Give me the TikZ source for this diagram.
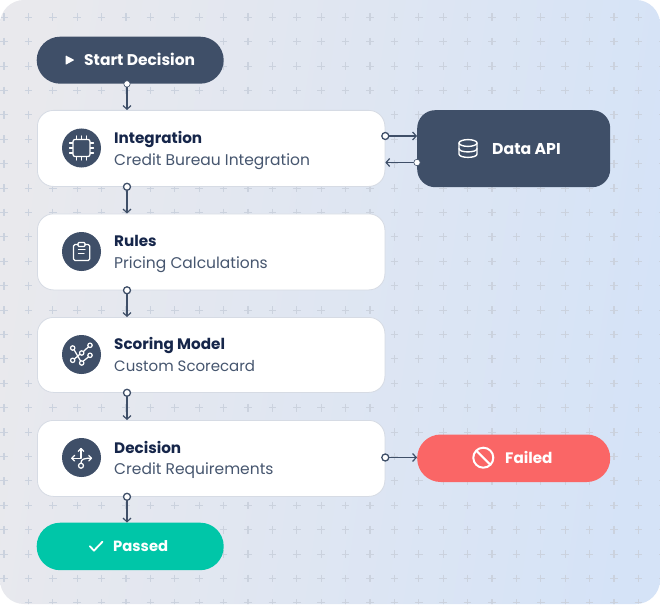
\documentclass[tikz,border=0pt]{standalone}
\usepackage{fontspec}
\setmainfont{Poppins}
\usetikzlibrary{arrows.meta}
\definecolor{slate}{HTML}{3F4F68}
\definecolor{titlec}{HTML}{16264A}
\definecolor{subc}{HTML}{46566F}
\definecolor{edge}{HTML}{D6DBE4}
\definecolor{plusc}{HTML}{CBD2DE}
\definecolor{bgl}{HTML}{E9E9ED}
\definecolor{bgr}{HTML}{D5E3F7}
\definecolor{okc}{HTML}{00C6A8}
\definecolor{badc}{HTML}{FA6666}
\tikzset{
  x=1pt,y=-1pt,
  card/.style={draw=edge,line width=0.8pt,fill=white,rounded corners=16pt,minimum width=347.5pt,minimum height=76pt,inner sep=0pt,anchor=north west},
  pill/.style={rounded corners=23.5pt,minimum width=187pt,minimum height=47pt,inner sep=0pt,anchor=north west},
  badge/.style={circle,fill=slate,minimum size=39pt,inner sep=0pt},
  ttl/.style={anchor=base west,inner sep=0pt,text=titlec,font=\fontsize{15.2}{16}\selectfont\bfseries},
  sub/.style={anchor=base west,inner sep=0pt,text=subc,font=\fontsize{#1}{16}\selectfont},
  sub/.default=15.5,
  lbl/.style={anchor=base west,inner sep=0pt,text=white,font=\fontsize{#1}{16}\selectfont\bfseries},
  link/.style={draw=slate,line width=1.4pt,-{Straight Barb[length=3.6pt,width=8pt,line width=1.2pt]}},
  porto/.style={circle,draw=slate,fill=white,line width=1.3pt,minimum size=7pt,inner sep=0pt},
  portw/.style={circle,draw=slate,fill=white,line width=0.6pt,minimum size=6.4pt,inner sep=0pt},
  ico/.style={draw=white,line width=1.25pt,line cap=round,line join=round},
}
\begin{document}
\begin{tikzpicture}
\useasboundingbox (0,0) rectangle (660,604);
\fill[white] (0,0) rectangle (660,604);
\shade[rounded corners=24pt,left color=bgl,right color=bgr,shading angle=82] (0,0) rectangle (660,604);
% plus grid
\begin{scope}
\clip[rounded corners=24pt] (0,0) rectangle (660,604);
\foreach \i in {0,...,27}{\foreach \j in {0,...,24}{
  \pgfmathsetmacro{\px}{4+24.4*\i}\pgfmathsetmacro{\py}{17.3+24.4*\j}
  \draw[plusc,line width=1.1pt] (\px-3.8,\py) -- (\px+3.8,\py) (\px,\py-3.8) -- (\px,\py+3.8);
}}
\end{scope}
% nodes
\node[pill,fill=slate] (start) at (36.5,36.5) {};
\node[card] (integ) at (37,110) {};
\node[card] (rules) at (37,213.5) {};
\node[card,minimum height=75pt] (score) at (37,317) {};
\node[card] (decis) at (37,420) {};
\node[pill,fill=okc,minimum height=47.5pt] (passed) at (36.5,522.5) {};
\node[fill=slate,rounded corners=18pt,minimum width=193pt,minimum height=77pt,inner sep=0pt,anchor=north west] (api) at (417,110) {};
\node[pill,fill=badc,minimum width=193pt,minimum height=47.5pt] (failed) at (417,434.3) {};
% connector anchors
\coordinate (vx) at (127,0);
\coordinate (hA) at (0,136);
\coordinate (hB) at (0,162.5);
\coordinate (hC) at (0,457.5);
% connectors
\draw[link] (start.south -| vx) -- (integ.north -| vx);
\draw[link] (integ.south -| vx) -- (rules.north -| vx);
\draw[link] (rules.south -| vx) -- (score.north -| vx);
\draw[link] (score.south -| vx) -- (decis.north -| vx);
\draw[link] (decis.south -| vx) -- (passed.north -| vx);
\draw[link] (integ.east |- hA) -- (api.west |- hA);
\draw[link] (api.west |- hB) -- (integ.east |- hB);
\draw[link] (decis.east |- hC) -- (failed.west |- hC);
% ports
\node[portw] (p1) at (start.south -| vx) {};
\node[porto] (p2) at (integ.south -| vx) {};
\node[porto] (p3) at (rules.south -| vx) {};
\node[porto] (p4) at (score.south -| vx) {};
\node[porto] (p5) at (decis.south -| vx) {};
\node[porto] (p6) at (integ.east |- hA) {};
\node[portw] (p7) at (api.west |- hB) {};
\node[porto] (p8) at (decis.east |- hC) {};
% text
\node[lbl=15.5] (t1) at (84,66) {Start Decision};
\node[ttl] (t2) at (114,143.5) {Integration};
\node[sub] (t3) at (114,165.3) {Credit Bureau Integration};
\node[ttl] (t4) at (114,246.3) {Rules};
\node[sub] (t5) at (114,268.5) {Pricing Calculations};
\node[ttl] (t6) at (114,349.5) {Scoring Model};
\node[sub=15] (t7) at (114,371.8) {Custom Scorecard};
\node[ttl] (t8) at (114,453) {Decision};
\node[sub] (t9) at (114,474.6) {Credit Requirements};
\node[lbl=14.8] (t10) at (113,551.3) {Passed};
\node[lbl=15.7] (t11) at (492,154) {Data API};
\node[lbl=15.2] (t12) at (505,463.4) {Failed};
% badges
\node[badge] (b1) at (81.5,148) {};
\node[badge] (b2) at (81.5,251.5) {};
\node[badge] (b3) at (81.5,354.5) {};
\node[badge] (b4) at (81.5,457.5) {};
% start triangle
\fill[white,rounded corners=0.6pt] (65.6,55.4) -- (74.4,60) -- (65.6,64.8) -- cycle;
% chip
\draw[ico,rounded corners=2pt] (73,139.5) rectangle (90,156.5);
\foreach \d in {-5,0,5}{
  \draw[ico,line width=1.1pt] (81.5+\d,136) -- (81.5+\d,139) (81.5+\d,157) -- (81.5+\d,160);
  \draw[ico,line width=1.1pt] (69.5,148+\d) -- (72.5,148+\d) (90.5,148+\d) -- (93.5,148+\d);
}
% clipboard
\draw[ico,rounded corners=1.5pt] (78,244.5) -- (73.5,244.5) -- (73.5,260.5) -- (89.7,260.5) -- (89.7,244.5) -- (85,244.5);
\draw[ico,rounded corners=1pt] (78,242.5) rectangle (85,246.5);
\draw[ico] (78.5,249.5) -- (85,249.5) (78.5,253.5) -- (84,253.5);
% graph
\draw[ico] (74,349.6) -- (80.6,361) (74.4,359) -- (80,354.2) (83.4,351.6) -- (88.4,346.8) (83,361.4) -- (88.6,356.8);
\foreach \p in {(72.7,348),(81.7,353),(90,345.3),(72.7,360.3),(81.7,363),(90,355.3)}{
  \draw[ico] \p circle (2.2);
}
% split arrows
\draw[ico] (81,463) .. controls (81,459) and (84,458.2) .. (91.5,458.2);
\draw[ico] (81,458.2) -- (81,448.6) (71.8,458.2) -- (81,458.2);
\draw[ico] (78.2,451.4) -- (81,448.6) -- (83.8,451.4);
\draw[ico] (74.6,455.4) -- (71.8,458.2) -- (74.6,461);
\draw[ico] (88.7,455.4) -- (91.5,458.2) -- (88.7,461);
\draw[ico] (81,465.7) circle (2.5);
% database
\draw[ico,line width=1.4pt] (468,143) ellipse (9 and 3.4);
\draw[ico,line width=1.4pt] (459,143) -- (459,154) .. controls (459,158.5) and (477,158.5) .. (477,154) -- (477,143);
\draw[ico,line width=1.4pt] (459,148.6) .. controls (459,153) and (477,153) .. (477,148.6);
% check
\draw[ico,line width=1.8pt] (89.8,546.2) -- (94,550.6) -- (102.4,541.8);
% prohibited
\draw[ico,line width=2pt] (483.3,457.7) circle (10);
\draw[ico,line width=2pt] (476.2,450.6) -- (490.4,464.8);
\end{tikzpicture}
\end{document}
